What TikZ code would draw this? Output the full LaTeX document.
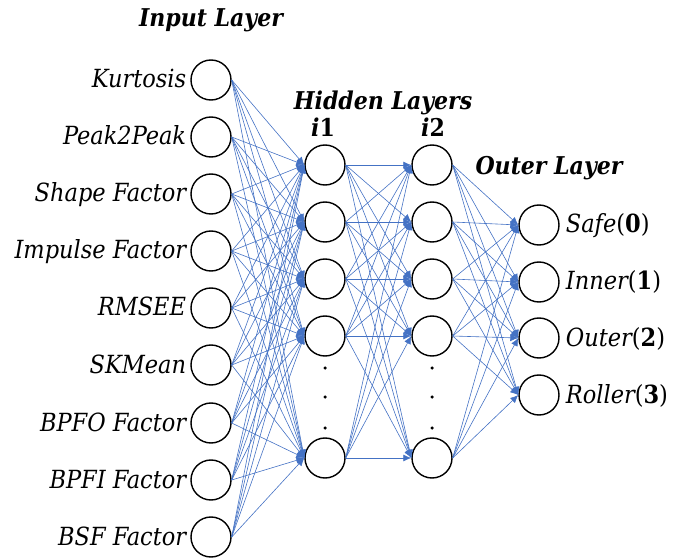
\documentclass[tikz,border=0pt]{standalone}
\usepackage{fontspec}
\setmainfont{DejaVu Serif Condensed}
\usetikzlibrary{arrows.meta}
\definecolor{edgeblue}{RGB}{68,114,196}
\begin{document}
\begin{tikzpicture}[x=1pt,y=-1pt,
  neuron/.style={circle, draw=black, line width=1.4pt, fill=white,
    minimum size=40pt, inner sep=0pt},
  link/.style={draw=edgeblue, line width=0.6pt,
    -{Latex[length=8pt,width=7pt]}},
  feat/.style={font=\fontsize{25}{28}\selectfont\itshape, inner sep=0pt},
  title/.style={font=\fontsize{24.5}{28}\selectfont\bfseries\itshape, inner sep=0pt},
  dot/.style={circle, fill=black, minimum size=3.5pt, inner sep=0pt}]
\useasboundingbox (0,0) rectangle (673,559);

% input layer
\foreach \y [count=\i] in {80,137,194,251,308,365,423,480,537}
  \node[neuron] (in\i) at (211,\y) {};
% first hidden layer
\foreach \y [count=\i] in {165,222,279,336,458}
  \node[neuron] (ha\i) at (325,\y) {};
% second hidden layer
\foreach \y [count=\i] in {165,222,279,336,458}
  \node[neuron] (hb\i) at (432,\y) {};
% output layer
\foreach \y [count=\i] in {225,282,338,395}
  \node[neuron] (out\i) at (539,\y) {};

% ellipsis dots between the hidden neurons
\foreach \y [count=\i] in {368,397,428} {
  \node[dot] (dota\i) at (325,\y) {};
  \node[dot] (dotb\i) at (432,\y) {};
}

% connections
\foreach \i in {1,...,9}
  \foreach \j in {1,...,5}
    \draw[link] (in\i.east) -- (ha\j.west);
\foreach \i in {1,...,5}
  \foreach \j in {1,...,5}
    \draw[link] (ha\i.east) -- (hb\j.west);
\foreach \i in {1,...,5}
  \foreach \j in {1,...,4}
    \draw[link] (hb\i.east) -- (out\j.west);

% feature names
\foreach \t [count=\i] in {Kurtosis, Peak2Peak, Shape Factor, Impulse Factor,
    RMSEE, SKMean, BPFO Factor, BPFI Factor, BSF Factor}
  \node[feat, anchor=base east] (inlab\i) at ([shift={(-4,8)}]in\i.west) {\t};

% class names
\node[feat, anchor=base west] (outlab1) at ([shift={(6,8)}]out1.east) {Safe{\upshape(\textbf{0})}};
\node[feat, anchor=base west] (outlab2) at ([shift={(6,8)}]out2.east) {Inner{\upshape(\textbf{1})}};
\node[feat, anchor=base west] (outlab3) at ([shift={(6,8)}]out3.east) {Outer{\upshape(\textbf{2})}};
\node[feat, anchor=base west] (outlab4) at ([shift={(6,8)}]out4.east) {Roller{\upshape(\textbf{3})}};

% layer titles
\node[title, anchor=base] (tin) at (211,27) {Input Layer};
\node[title, anchor=base] (thid) at (383,110) {Hidden Layers};
\node[title, anchor=base] (ti1) at (323,137) {i{\upshape 1}};
\node[title, anchor=base] (ti2) at (433,137) {i{\upshape 2}};
\node[title, anchor=base] (tout) at (549,175) {Outer Layer};
\end{tikzpicture}
\end{document}
